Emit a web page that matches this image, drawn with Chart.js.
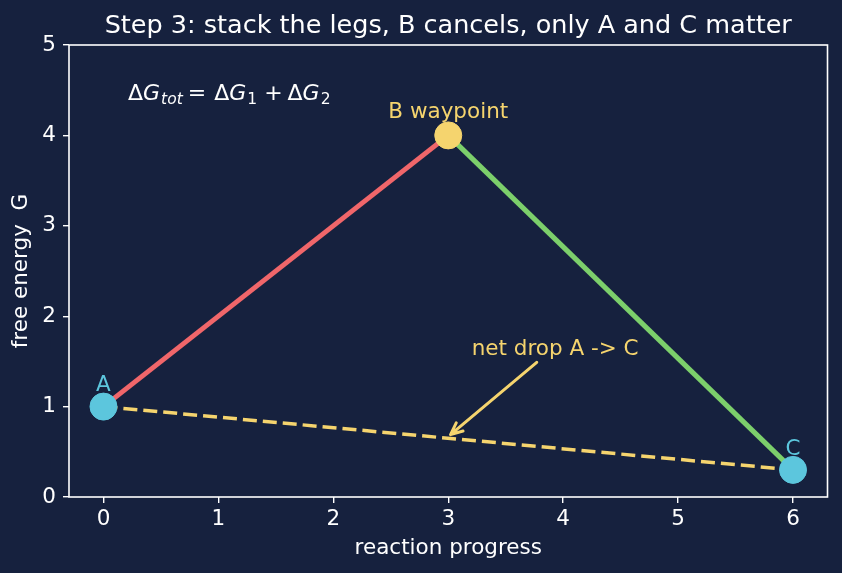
<!DOCTYPE html>
<html>
<head>
<meta charset="utf-8">
<script src="https://cdn.jsdelivr.net/npm/chart.js@4"></script>
<style>
  html, body { margin: 0; padding: 0; background: #16213e; }
  #wrap { width: 842px; height: 573px; }
</style>
</head>
<body>
<div id="wrap"><canvas id="chart" width="842" height="573"></canvas></div>
<script>
// points along the reaction path
const pointLabels = ['A', 'B waypoint', 'C']
const progress = [0, 3, 6]
const energy = [1, 4, 0.3]

const xTicks = [0, 1, 2, 3, 4, 5, 6]
const yTicks = [0, 1, 2, 3, 4, 5]

// annotation arrow (data coords)
const arrowFrom = [3.77, 1.49]
const arrowTo = [3.02, 0.69]
const arrowText = 'net drop A -> C'
const arrowTextAt = [3.93, 1.57]

const titleText = 'Step 3: stack the legs, B cancels, only A and C matter'

const bg = '#16213e'
const red = '#f0666a'
const green = '#7ccf6b'
const yellow = '#f5d46e'
const cyan = '#5cc6dd'
const font = 'DejaVu Sans'
const fs = 21.5

const pt = i => ({ x: progress[i], y: energy[i] })

const overlay = {
    id: 'overlay',
    beforeDraw(chart) {
        const c = chart.ctx
        c.save()
        c.fillStyle = bg
        c.fillRect(0, 0, chart.width, chart.height)
        c.restore()
    },
    afterDraw(chart) {
        const c = chart.ctx
        const xs = chart.scales.x
        const ys = chart.scales.y
        const a = chart.chartArea
        c.save()
        // frame
        c.strokeStyle = '#ffffff'
        c.lineWidth = 1.6
        c.strokeRect(a.left, a.top, a.right - a.left, a.bottom - a.top)

        // title
        c.fillStyle = '#ffffff'
        c.font = `25.5px "${font}"`
        c.textAlign = 'center'
        c.textBaseline = 'alphabetic'
        c.fillText(titleText, (a.left + a.right) / 2, 33)

        // point labels
        c.font = `${fs}px "${font}"`
        c.fillStyle = cyan
        c.fillText(pointLabels[0], xs.getPixelForValue(progress[0]), ys.getPixelForValue(energy[0]) - 16)
        c.fillText(pointLabels[2], xs.getPixelForValue(progress[2]), ys.getPixelForValue(energy[2]) - 15)
        c.fillStyle = yellow
        c.fillText(pointLabels[1], xs.getPixelForValue(progress[1]), ys.getPixelForValue(energy[1]) - 17)

        // arrow
        const x1 = xs.getPixelForValue(arrowFrom[0]), y1 = ys.getPixelForValue(arrowFrom[1])
        const x2 = xs.getPixelForValue(arrowTo[0]), y2 = ys.getPixelForValue(arrowTo[1])
        const ang = Math.atan2(y2 - y1, x2 - x1)
        c.strokeStyle = yellow
        c.lineWidth = 3
        c.lineCap = 'round'
        c.lineJoin = 'round'
        c.beginPath()
        c.moveTo(x1, y1)
        c.lineTo(x2, y2)
        c.moveTo(x2 - 13 * Math.cos(ang - 0.42), y2 - 13 * Math.sin(ang - 0.42))
        c.lineTo(x2, y2)
        c.lineTo(x2 - 13 * Math.cos(ang + 0.42), y2 - 13 * Math.sin(ang + 0.42))
        c.stroke()
        c.fillStyle = yellow
        c.font = `${fs}px "${font}"`
        c.fillText(arrowText, xs.getPixelForValue(arrowTextAt[0]), ys.getPixelForValue(arrowTextAt[1]))

        // equation: ΔG_tot = ΔG_1 + ΔG_2
        const parts = [
            ['Δ', 'normal', 22, 0, 0], ['G', 'italic', 22, 0, 1], ['tot', 'italic', 15.5, 4, 5],
            ['=', 'normal', 22, 0, 8], ['Δ', 'normal', 22, 0, 0], ['G', 'italic', 22, 0, 1],
            ['1', 'normal', 15.5, 4, 7], ['+', 'normal', 22, 0, 5], ['Δ', 'normal', 22, 0, 0],
            ['G', 'italic', 22, 0, 1], ['2', 'normal', 15.5, 4, 0]
        ]
        c.fillStyle = '#ffffff'
        c.textAlign = 'left'
        let x = 128
        const base = 100
        parts.forEach(([t, st, sz, dy, gap]) => {
            c.font = `${st} ${sz}px "${font}"`
            c.fillText(t, x, base + dy)
            x += c.measureText(t).width + gap
        })
        c.restore()
    }
}

new Chart(document.getElementById('chart'), {
    type: 'scatter',
    data: {
        datasets: [
            {
                data: [pt(0), pt(1)], showLine: true, borderColor: red, borderWidth: 5,
                pointRadius: 0, order: 4
            },
            {
                data: [pt(1), pt(2)], showLine: true, borderColor: green, borderWidth: 5,
                pointRadius: 0, order: 3
            },
            {
                data: [pt(0), pt(2)], showLine: true, borderColor: yellow, borderWidth: 3.5,
                borderDash: [14, 6], pointRadius: 0, order: 2
            },
            {
                data: [pt(0), pt(1), pt(2)], showLine: false,
                backgroundColor: [cyan, yellow, cyan], borderColor: [cyan, yellow, cyan],
                pointRadius: 13.5, pointBorderWidth: 1, order: 1
            }
        ]
    },
    options: {
        responsive: false,
        animation: false,
        layout: { padding: { top: 45, right: 14, left: 0, bottom: 0 } },
        plugins: { legend: { display: false }, tooltip: { enabled: false } },
        scales: {
            x: {
                type: 'linear', min: -0.3, max: 6.3,
                afterBuildTicks: s => { s.ticks = xTicks.map(v => ({ value: v })) },
                afterFit: s => { s.height = 76 },
                grid: { drawOnChartArea: false, color: '#ffffff', lineWidth: 1.4, tickLength: 6 },
                border: { display: false },
                ticks: { color: '#ffffff', font: { family: font, size: fs }, padding: 4 },
                title: { display: true, text: 'reaction progress', color: '#ffffff', font: { family: font, size: fs }, padding: { top: 0, bottom: 12 } }
            },
            y: {
                type: 'linear', min: 0, max: 5,
                afterBuildTicks: s => { s.ticks = yTicks.map(v => ({ value: v })) },
                afterFit: s => { s.width = 69 },
                grid: { drawOnChartArea: false, color: '#ffffff', lineWidth: 1.4, tickLength: 6 },
                border: { display: false },
                ticks: { color: '#ffffff', font: { family: font, size: fs }, padding: 7 },
                title: { display: true, text: 'free energy  G', color: '#ffffff', font: { family: font, size: fs }, padding: { top: 9, bottom: 0 } }
            }
        }
    },
    plugins: [overlay]
})
</script>
</body>
</html>
